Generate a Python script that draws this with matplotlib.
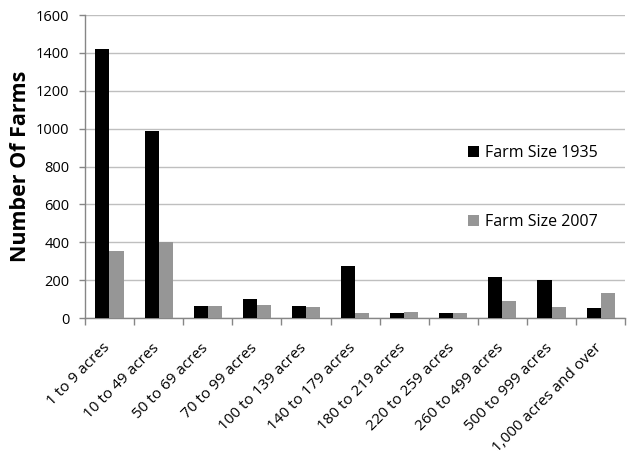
import matplotlib
matplotlib.use("Agg")
import matplotlib.pyplot as plt
import numpy as np

categories = [
    "1 to 9 acres", "10 to 49 acres", "50 to 69 acres", "70 to 99 acres",
    "100 to 139 acres", "140 to 179 acres", "180 to 219 acres",
    "220 to 259 acres", "260 to 499 acres", "500 to 999 acres",
    "1,000 acres and over",
]
farms_1935 = [1420, 985, 66, 103, 66, 276, 27, 27, 217, 200, 55]
farms_2007 = [352, 400, 62, 68, 56, 25, 32, 27, 91, 59, 132]
yticks = [0, 200, 400, 600, 800, 1000, 1200, 1400, 1600]

plt.rcParams["font.family"] = ["Open Sans", "DejaVu Sans"]

fig = plt.figure(figsize=(6.29, 4.55), dpi=100)
ax = fig.add_axes([0.135, 0.301, 0.859, 0.666])

x = np.arange(len(categories))
w = 0.286
ax.bar(x - w / 2, farms_1935, width=w, color="#000000", label="Farm Size 1935", zorder=3)
ax.bar(x + w / 2, farms_2007, width=w, color="#969696", label="Farm Size 2007", zorder=3)

ax.set_xlim(-0.5, len(categories) - 0.5)
ax.set_ylim(0, 1600)
ax.set_yticks(yticks)
ax.set_yticklabels([str(v) for v in yticks], fontsize=10.5)
ax.yaxis.grid(True, color="#bfbfbf", linewidth=1, zorder=0)

# category boundary ticks on the x axis
ax.set_xticks(np.arange(len(categories) + 1) - 0.5)
ax.set_xticklabels([])
ax.tick_params(axis="x", length=5, color="#868686", width=1)
ax.tick_params(axis="y", length=4, color="#868686", width=1, pad=7)

for side in ["top", "right"]:
    ax.spines[side].set_visible(False)
for side in ["left", "bottom"]:
    ax.spines[side].set_color("#868686")
    ax.spines[side].set_linewidth(1)

for i, lab in enumerate(categories):
    ax.annotate(lab, xy=(i, 0), xycoords=("data", "axes fraction"),
                xytext=(-1, -20), textcoords="offset points",
                rotation=45, rotation_mode="anchor", ha="right", va="center",
                fontsize=11)

ax.set_ylabel("Number Of Farms", fontsize=15.5, fontweight="bold", labelpad=4)

leg = ax.legend(loc="center left", bbox_to_anchor=(0.695, 0.431), frameon=False,
                borderpad=0, fontsize=11.5, labelspacing=3.3, handlelength=0.65,
                handleheight=0.65, handletextpad=0.4)

fig.savefig("out.png", dpi=100)
